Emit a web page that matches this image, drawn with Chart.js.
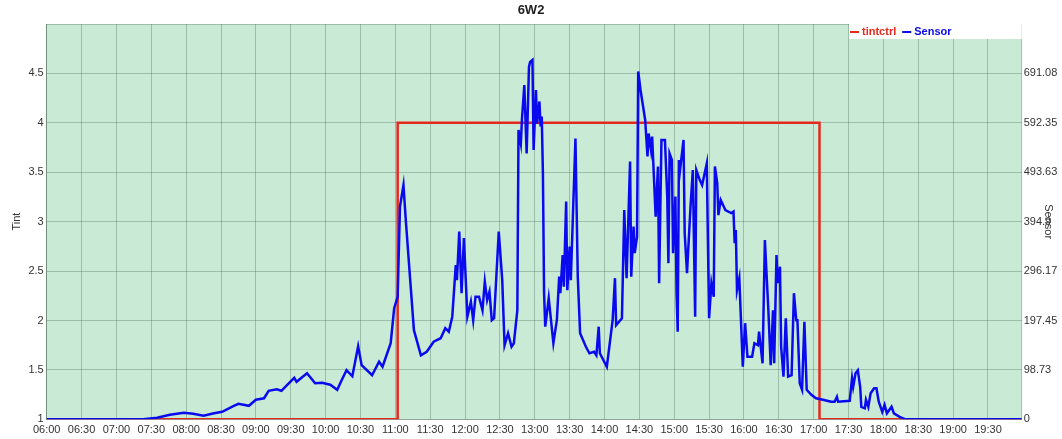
<!DOCTYPE html>
<html>
<head>
<meta charset="utf-8">
<script src="https://cdn.jsdelivr.net/npm/chart.js@4/dist/chart.umd.min.js"></script>
<style>
  body { margin: 0; background: #fff; }
  #wrap { width: 1062px; height: 439px; }
</style>
</head>
<body>
<div id="wrap"><canvas id="chart-6w2" width="1062" height="439"></canvas></div>
<script>
var tintTimes = ['06:00', '11:02', '17:05', '19:59'];
var tintValues = [1, 4, 1, 1];

var sensorTimes = [
  '06:00','07:23','07:35','07:46','07:58','08:06','08:15','08:24','08:31','08:41',
  '08:45','08:54','09:00','09:07','09:11','09:18','09:22','09:27','09:33','09:35',
  '09:44','09:51','09:57','10:04','10:10','10:14','10:18','10:23','10:28','10:31',
  '10:40','10:46','10:49','10:56','10:59','11:02','11:04','11:07','11:09','11:13',
  '11:16','11:22','11:27','11:33','11:39','11:43','11:46','11:49','11:52','11:53',
  '11:55','11:57','11:59','12:02','12:05','12:07','12:09','12:12','12:15','12:17',
  '12:19','12:21','12:23','12:25','12:29','12:32','12:34','12:37','12:40','12:42',
  '12:45','12:46','12:48','12:49','12:51','12:53','12:55','12:56','12:58','12:59',
  '13:01','13:02','13:04','13:05','13:06','13:07','13:08','13:09','13:12','13:16',
  '13:19','13:21','13:22','13:24','13:25','13:27','13:28','13:30','13:31','13:35',
  '13:37','13:39','13:44','13:47','13:51','13:53','13:55','13:56','14:02','14:07',
  '14:09','14:10','14:15','14:17','14:19','14:22','14:23','14:25','14:26','14:28',
  '14:29','14:31','14:35','14:37','14:38','14:40','14:41','14:44','14:46','14:47',
  '14:49','14:52','14:54','14:55','14:56','14:58','14:59','15:01','15:02','15:03',
  '15:04','15:05','15:08','15:09','15:11','15:14','15:16','15:18','15:19','15:22',
  '15:24','15:28','15:30','15:32','15:34','15:35','15:37','15:38','15:40','15:44',
  '15:49','15:51','15:52','15:53','15:54','15:56','15:59','16:01','16:03','16:07',
  '16:09','16:12','16:13','16:16','16:18','16:21','16:23','16:25','16:26','16:28',
  '16:29','16:31','16:32','16:34','16:36','16:38','16:41','16:43','16:45','16:46',
  '16:48','16:50','16:52','16:54','16:58','17:02','17:08','17:15','17:18','17:20',
  '17:21','17:31','17:33','17:34','17:36','17:38','17:40','17:41','17:44','17:45',
  '17:47','17:49','17:52','17:54','17:56','17:59','18:01','18:03','18:07','18:09',
  '18:14','18:19','19:59'
];
var sensorValues = [
  0, 0, 3, 9, 13, 11, 7, 12, 15, 27,
  31, 27, 39, 42, 57, 60, 57, 69, 83, 75,
  92, 72, 73, 69, 59, 79, 98, 86, 146, 108,
  88, 115, 105, 152, 222, 245, 425, 468, 398, 272,
  178, 128, 135, 155, 162, 182, 175, 205, 308, 278,
  375, 252, 362, 205, 235, 198, 245, 245, 218, 275,
  238, 255, 198, 202, 375, 278, 148, 172, 145, 152,
  218, 578, 551, 601, 668, 531, 704, 714, 718, 538,
  658, 591, 635, 585, 605, 491, 252, 185, 242, 152,
  198, 285, 252, 328, 265, 435, 258, 345, 278, 561,
  285, 172, 145, 132, 135, 128, 185, 132, 105, 198,
  282, 188, 202, 418, 282, 515, 285, 385, 332, 365,
  695, 658, 598, 525, 571, 538, 565, 405, 505, 272,
  558, 558, 445, 312, 531, 518, 332, 445, 252, 175,
  518, 498, 558, 372, 292, 425, 498, 205, 498, 478,
  468, 511, 202, 272, 245, 505, 472, 408, 438, 418,
  412, 415, 352, 378, 258, 282, 105, 192, 125, 125,
  152, 148, 175, 112, 358, 218, 108, 218, 112, 328,
  272, 305, 145, 85, 202, 85, 88, 252, 198, 198,
  72, 59, 195, 59, 49, 42, 39, 35, 35, 45,
  35, 37, 82, 65, 92, 98, 65, 25, 22, 39,
  25, 52, 62, 62, 35, 15, 29, 12, 25, 12,
  5, 0, 0
];

var tintTickLabels = ['1', '1.5', '2', '2.5', '3', '3.5', '4', '4.5', ''];
var sensorTickLabels = ['0', '98.73', '197.45', '296.17', '394.9', '493.63', '592.35', '691.08', ''];

function toMinutes(s) {
  var p = s.split(':');
  return +p[0] * 60 + +p[1];
}
function toClock(m) {
  var h = Math.floor(m / 60), mm = m % 60;
  return (h < 10 ? '0' : '') + h + ':' + (mm < 10 ? '0' : '') + mm;
}
function points(times, values) {
  return times.map(function (t, i) { return { x: toMinutes(t), y: values[i] }; });
}

var gridColor = 'rgba(50, 85, 65, 0.3)';
var tickFont = { family: 'Liberation Sans, Arial, sans-serif', size: 11 };

// green plot background
var plotBackground = {
  id: 'plotBackground',
  beforeDraw: function (chart) {
    var a = chart.chartArea, ctx = chart.ctx;
    ctx.save();
    ctx.fillStyle = '#c9ebd5';
    ctx.fillRect(a.left, a.top, a.right - a.left, a.bottom - a.top);
    ctx.restore();
  }
};

// legend box in the top right corner of the plot
var cornerLegend = {
  id: 'cornerLegend',
  afterDatasetsDraw: function (chart) {
    var a = chart.chartArea, ctx = chart.ctx;
    ctx.save();
    ctx.fillStyle = '#fff';
    ctx.fillRect(849, a.top, a.right - 849, 15);
    ctx.font = 'bold 11px Liberation Sans, Arial, sans-serif';
    ctx.textBaseline = 'middle';
    var x = 850, y = a.top + 8;
    chart.data.datasets.forEach(function (ds) {
      ctx.fillStyle = ds.borderColor;
      ctx.fillRect(x, y - 1, 9, 2);
      ctx.fillText(ds.label, x + 12, y);
      x += 12 + ctx.measureText(ds.label).width + 6;
    });
    ctx.restore();
  }
};

var sensorChart = new Chart(document.getElementById('chart-6w2').getContext('2d'), {
  type: 'line',
  data: {
    datasets: [{
      label: 'tintctrl',
      data: points(tintTimes, tintValues),
      yAxisID: 'y',
      borderColor: '#e4291f',
      borderWidth: 2.5,
      stepped: true,
      pointRadius: 0,
      order: 1
    }, {
      label: 'Sensor',
      data: points(sensorTimes, sensorValues),
      yAxisID: 'y1',
      borderColor: '#0a0aef',
      borderWidth: 2.5,
      tension: 0,
      pointRadius: 0,
      order: 0
    }]
  },
  options: {
    responsive: false,
    animation: false,
    layout: { padding: 0 },
    plugins: {
      legend: { display: false },
      tooltip: { enabled: false },
      title: {
        display: true,
        text: '6W2',
        color: '#222',
        font: { family: 'Liberation Sans, Arial, sans-serif', size: 13, weight: 'bold', lineHeight: 1.2 },
        padding: { top: 3, bottom: 5.4 }
      }
    },
    scales: {
      x: {
        type: 'linear',
        min: 360,
        max: 1199,
        afterFit: function (scale) { scale.height = 19.7; },
        grid: { color: gridColor, drawTicks: false },
        border: { color: gridColor },
        ticks: {
          stepSize: 30,
          includeBounds: false,
          autoSkip: false,
          maxRotation: 0,
          padding: 4,
          color: '#333',
          font: tickFont,
          callback: function (v) { return toClock(v); }
        }
      },
      y: {
        position: 'left',
        min: 1,
        max: 5,
        afterFit: function (scale) { scale.width = 46.7; },
        grid: { color: gridColor, drawTicks: false },
        border: { color: 'rgba(50, 85, 65, 0.5)' },
        ticks: {
          stepSize: 0.5,
          padding: 3,
          color: '#333',
          font: tickFont,
          callback: function (v, i) { return tintTickLabels[i]; }
        },
        title: {
          display: true,
          text: 'Tint',
          color: '#333',
          font: tickFont,
          padding: { top: 10, bottom: 0 }
        }
      },
      y1: {
        position: 'right',
        min: 0,
        max: 789.8,
        afterFit: function (scale) { scale.width = 40.3; },
        grid: { drawOnChartArea: false, drawTicks: false },
        border: { color: gridColor },
        ticks: {
          stepSize: 98.725,
          padding: 2,
          color: '#333',
          font: tickFont,
          callback: function (v, i) { return sensorTickLabels[i]; }
        },
        title: {
          display: true,
          text: 'Sensor',
          color: '#333',
          font: tickFont,
          padding: { top: 7.4, bottom: 0 }
        }
      }
    }
  },
  plugins: [plotBackground, cornerLegend]
});
</script>
</body>
</html>
